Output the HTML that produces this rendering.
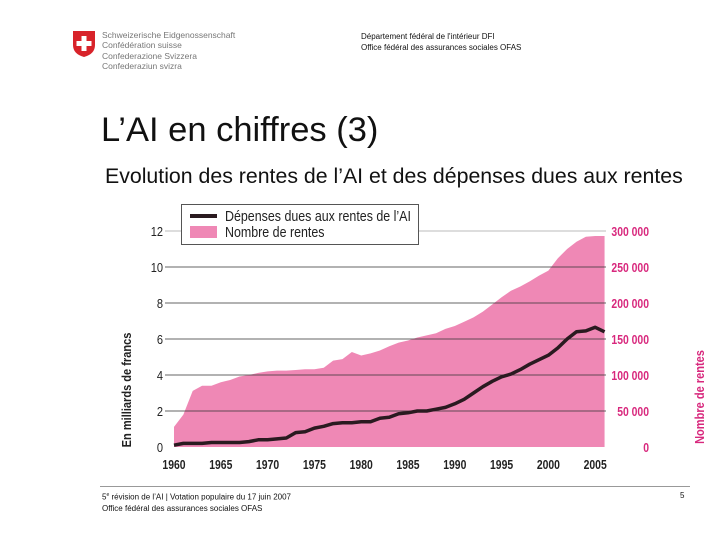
<!DOCTYPE html>
<html><head><meta charset="utf-8"><style>
body{margin:0;width:720px;height:540px;background:#fff;font-family:"Liberation Sans",sans-serif;position:relative;overflow:hidden}
.a{position:absolute;white-space:nowrap}
</style></head><body>
<svg class="a" style="left:72px;top:30px" width="24" height="28" viewBox="0 0 24 28"><path d="M1 1H23V15Q23 24 12 27Q1 24 1 15Z" fill="#d8232a"/><rect x="9.5" y="6" width="5" height="15" fill="#fff"/><rect x="4.5" y="11" width="15" height="5" fill="#fff"/></svg>
<div class="a" style="left:102px;top:30px;font-size:8.5px;line-height:10.3px;color:#777">Schweizerische Eidgenossenschaft<br>Confédération suisse<br>Confederazione Svizzera<br>Confederaziun svizra</div>
<div class="a" style="left:361px;top:31px;font-size:8px;line-height:11px;color:#111">Département fédéral de l'intérieur DFI<br>Office fédéral des assurances sociales OFAS</div>
<div class="a" style="left:101px;top:111px;font-size:34.5px;color:#111">L’AI en chiffres (3)</div>
<div class="a" style="left:105px;top:164px;font-size:21.3px;color:#111">Evolution des rentes de l’AI et des dépenses dues aux rentes</div>
<svg id="c" class="a" style="left:0;top:0" width="720" height="540"></svg>
<div class="a" style="left:100px;top:486px;width:590px;height:1px;background:#999"></div>
<div class="a" style="left:102px;top:490px;font-size:8px;line-height:11px;color:#111">5<sup style="font-size:5px">e</sup> révision de l’AI | Votation populaire du 17 juin 2007<br>Office fédéral des assurances sociales OFAS</div>
<div class="a" style="left:680px;top:491px;font-size:8px;color:#111">5</div>
<script>
const years=[1960,1961,1962,1963,1964,1965,1966,1967,1968,1969,1970,1971,1972,1973,1974,1975,1976,1977,1978,1979,1980,1981,1982,1983,1984,1985,1986,1987,1988,1989,1990,1991,1992,1993,1994,1995,1996,1997,1998,1999,2000,2001,2002,2003,2004,2005,2006];
const rentes=[28,45,78,85,85,90,93,98,100,103,105,106,106,107,108,108,110,120,122,132,127,130,134,140,145,148,152,155,158,164,168,174,180,188,198,208,217,223,230,238,245,262,275,285,292,293,293];
const depenses=[0.1,0.2,0.2,0.2,0.25,0.25,0.25,0.25,0.3,0.4,0.4,0.45,0.5,0.8,0.85,1.05,1.15,1.3,1.35,1.35,1.4,1.4,1.6,1.65,1.85,1.9,2.0,2.0,2.1,2.2,2.4,2.65,3.0,3.35,3.65,3.9,4.05,4.3,4.6,4.85,5.1,5.5,6.0,6.4,6.45,6.65,6.4];
const leftTicks=[0,2,4,6,8,10,12];
const rightTicks=["0","50 000","100 000","150 000","200 000","250 000","300 000"];
const xTicks=[1960,1965,1970,1975,1980,1985,1990,1995,2000,2005];
const svg=document.getElementById('c'),NS='http://www.w3.org/2000/svg';
const X=y=>174+(y-1960)*9.36, Y=v=>447-v*18, YR=k=>447-k*0.72;
function mk(t,a,txt){const e=document.createElementNS(NS,t);for(const k in a)e.setAttribute(k,a[k]);if(txt!=null)e.textContent=txt;svg.appendChild(e);return e;}
let d='M'+X(years[0])+' '+YR(0);
years.forEach((y,i)=>d+=' L'+X(y)+' '+YR(rentes[i]));
d+=' L'+X(years[years.length-1])+' '+YR(0)+'Z';
const ar=mk('path',{d:d,fill:'#ef88b5'});


leftTicks.forEach((t,i)=>{
 const g=mk('line',{x1:165,x2:606,y1:Y(t),y2:Y(t),stroke:t==12?'#ddd':'#333','stroke-width':t==12?2:0.8,'stroke-opacity':t==0?0:1});
 
 
 const l=mk('text',{x:163,y:Y(t)+5,'text-anchor':'end','font-size':13,fill:'#222','transform':`translate(${163*0.15},0) scale(0.85,1)`},t);
 
 
 const r=mk('text',{x:649,y:Y(t)+5,'text-anchor':'end','font-size':13,'font-weight':'bold',fill:'#d8287d','transform':`translate(${649*0.2},0) scale(0.8,1)`},rightTicks[i]);
 
 
});
xTicks.forEach(t=>{
 const l=mk('text',{x:X(t),y:469,'text-anchor':'middle','font-size':13,'font-weight':'bold',fill:'#222','transform':`translate(${X(t)*0.2},0) scale(0.8,1)`},t);
 
 
});
const ln=mk('polyline',{points:years.map((y,i)=>X(y)+','+Y(depenses[i])).join(' '),fill:'none',stroke:'#2a1a20','stroke-width':3.5,'stroke-linejoin':'round'});


const yl=mk('text',{x:0,y:0,'font-size':13,'font-weight':'bold',fill:'#222','text-anchor':'middle',transform:'translate(131,390) rotate(-90) scale(0.85,1)'},'En milliards de francs');


const yr=mk('text',{x:0,y:0,'font-size':13,'font-weight':'bold',fill:'#d8287d','text-anchor':'middle',transform:'translate(704,397) rotate(-90) scale(0.85,1)'},'Nombre de rentes');


const lb=mk('rect',{x:181.5,y:204.5,width:237,height:40,fill:'#fff',stroke:'#555'});


const l1=mk('rect',{x:190,y:214,width:27,height:4,fill:'#2a1a20'});


const l2=mk('rect',{x:190,y:226,width:27,height:12,fill:'#ef88b5'});


const t1=mk('text',{x:0,y:0,'font-size':15,fill:'#222',transform:'translate(225,221) scale(0.83,1)'},'Dépenses dues aux rentes de l’AI');


const t2=mk('text',{x:0,y:0,'font-size':15,fill:'#222',transform:'translate(225,237) scale(0.83,1)'},'Nombre de rentes');


</script>
</body></html>
